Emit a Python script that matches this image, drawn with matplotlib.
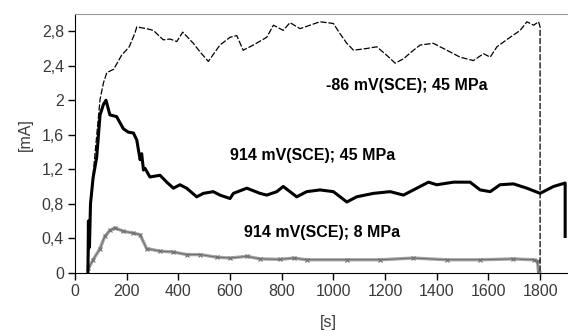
import matplotlib
matplotlib.use("Agg")
import matplotlib.pyplot as plt
from matplotlib.ticker import FixedLocator

# Series A: -86 mV(SCE); 45 MPa (thin dashed)
t_a = [50, 60, 75, 97, 110, 123, 150, 180, 210, 232, 239, 277, 303, 342, 368, 394, 417,
       458, 484, 516, 561, 600, 626, 651, 690, 742, 768, 806, 832, 871, 948, 1000, 1026,
       1052, 1078, 1129, 1168, 1207, 1239, 1271, 1310, 1336, 1387, 1439, 1490, 1542, 1581,
       1607, 1633, 1684, 1723, 1749, 1775, 1794, 1800, 1800]
i_a = [0.0, 0.8, 1.3, 2.01, 2.2, 2.32, 2.36, 2.52, 2.62, 2.78, 2.85, 2.83, 2.81, 2.70, 2.71,
       2.68, 2.79, 2.66, 2.56, 2.45, 2.64, 2.73, 2.75, 2.58, 2.64, 2.73, 2.87, 2.81, 2.90,
       2.83, 2.91, 2.89, 2.77, 2.66, 2.58, 2.60, 2.62, 2.52, 2.43, 2.48, 2.58, 2.64, 2.66,
       2.58, 2.50, 2.46, 2.54, 2.50, 2.62, 2.73, 2.81, 2.91, 2.87, 2.91, 2.85, 0.0]

# Series B: 914 mV(SCE); 45 MPa (thick black)
t_b = [50, 52, 53, 54, 56, 60, 70, 84, 97, 110, 120, 135, 161, 187, 206, 226, 239, 252, 258,
       265, 271, 290, 329, 355, 381, 406, 432, 471, 497, 535, 561, 600, 613, 665, 716, 742,
       781, 806, 832, 858, 897, 948, 1000, 1052, 1090, 1155, 1220, 1271, 1310, 1368, 1400,
       1465, 1529, 1568, 1607, 1645, 1697, 1749, 1800, 1852, 1897, 1897]
i_b = [0.0, 0.6, 0.28, 0.59, 0.3, 0.8, 1.1, 1.34, 1.83, 1.95, 2.0, 1.83, 1.81, 1.67, 1.63,
       1.62, 1.54, 1.31, 1.38, 1.19, 1.21, 1.11, 1.13, 1.05, 0.98, 1.02, 0.98, 0.88, 0.92,
       0.94, 0.90, 0.86, 0.92, 0.98, 0.92, 0.90, 0.94, 1.00, 0.94, 0.88, 0.94, 0.96, 0.94,
       0.82, 0.88, 0.92, 0.94, 0.90, 0.96, 1.05, 1.02, 1.05, 1.05, 0.96, 0.94, 1.02, 1.03,
       0.98, 0.92, 1.00, 1.04, 0.42]

# Series C: 914 mV(SCE); 8 MPa (grey with crosses)
t_c = [52, 70, 97, 115, 135, 155, 187, 226, 252, 277, 329, 381, 432, 484, 548, 600, 665,
       716, 794, 846, 897, 1052, 1181, 1310, 1439, 1568, 1697, 1775, 1790, 1794]
i_c = [0.05, 0.15, 0.28, 0.42, 0.49, 0.52, 0.48, 0.46, 0.44, 0.28, 0.25, 0.24, 0.21, 0.21,
       0.18, 0.17, 0.19, 0.16, 0.155, 0.17, 0.15, 0.15, 0.15, 0.17, 0.15, 0.15, 0.16, 0.15,
       0.13, 0.0]

x_ticks = [0, 200, 400, 600, 800, 1000, 1200, 1400, 1600, 1800]
y_ticks = [0, 0.4, 0.8, 1.2, 1.6, 2.0, 2.4, 2.8]
y_tick_labels = ["0", "0,4", "0,8", "1,2", "1,6", "2", "2,4", "2,8"]

labels = ["-86 mV(SCE); 45 MPa", "914 mV(SCE); 45 MPa", "914 mV(SCE); 8 MPa"]

plt.rcParams['font.family'] = ['Liberation Sans', 'DejaVu Sans']

fig = plt.figure(figsize=(5.68, 3.32), dpi=100)
ax = fig.add_axes([75/568, (332-272.7)/332, 1 - 75/568, (272.7-14)/332])

ax.plot(t_c, i_c, color='#a8a8a8', lw=2.4, solid_joinstyle='round')
ax.plot(t_c, i_c, color='#707070', lw=0.8, marker='x', markersize=3, markeredgewidth=0.8)
ax.plot(t_a, i_a, color='black', lw=0.9, linestyle=(0, (5, 1.5)))
ax.plot(t_b, i_b, color='black', lw=2.2, solid_joinstyle='round')

ax.set_xlim(0, 1908)
ax.set_ylim(0, 3.0)
ax.set_xticks(x_ticks)
ax.set_xticklabels([str(v) for v in x_ticks])
ax.yaxis.set_major_locator(FixedLocator(y_ticks))
ax.set_yticklabels(y_tick_labels)

ax.spines['right'].set_visible(False)
ax.spines['top'].set_color('#999999')
ax.spines['left'].set_color('black')
ax.spines['bottom'].set_color('black')
ax.tick_params(direction='out', length=5, width=1, labelsize=11.5, labelcolor='#3a3a3a',
               pad=3)

ax.text(1285, 2.17, labels[0], ha='center', va='center', fontsize=11.5, fontweight='bold')
ax.text(920, 1.36, labels[1], ha='center', va='center', fontsize=11.5, fontweight='bold')
ax.text(955, 0.47, labels[2], ha='center', va='center', fontsize=11.5, fontweight='bold')

fig.text(328/568, 1 - 323/332, "[s]", ha='center', va='center', fontsize=11.5, color='#3a3a3a')
fig.text(25/568, 1 - 135/332, "[mA]", ha='center', va='center', rotation=90, fontsize=11.5,
         color='#3a3a3a')

fig.savefig("out.png", dpi=100)
